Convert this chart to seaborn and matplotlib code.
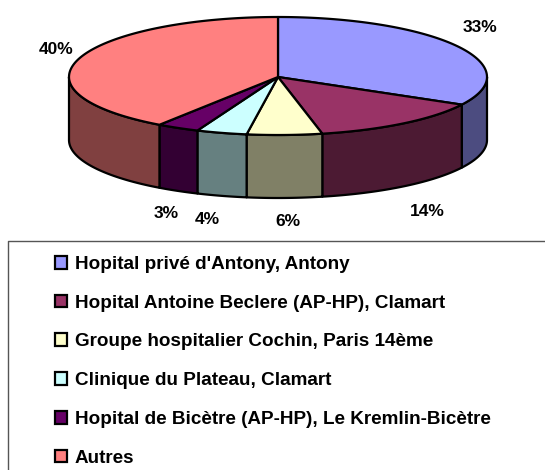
import numpy as np
import matplotlib
matplotlib.use('Agg')
import matplotlib.pyplot as plt
from matplotlib.patches import Patch
import seaborn as sns

# donnees
labels = ["Hopital privé d'Antony, Antony",
          "Hopital Antoine Beclere (AP-HP), Clamart",
          "Groupe hospitalier Cochin, Paris 14ème",
          "Clinique du Plateau, Clamart",
          "Hopital de Bicètre (AP-HP), Le Kremlin-Bicètre",
          "Autres"]
values = [32.9, 13.7, 5.8, 3.9, 3.3, 40.4]
top_colors = ['#9999FF', '#993366', '#FFFFCC', '#CCFFFF', '#660066', '#FF8080']
side_colors = ['#4C4C80', '#4C1A33', '#808066', '#668080', '#330033', '#804040']
label_pos = [(480, 28), (427, 211), (288, 222), (207, 220), (166, 214), (56, 49)]

# geometrie du camembert, en pixels
cx, cy = 278, 77
rx = 209
ry_back, ry_front = 60, 58
depth = 63
lw = 1.6

sns.set_theme(style='white')
plt.rcParams['font.family'] = ['Liberation Sans', 'DejaVu Sans']

fig, ax = plt.subplots(figsize=(5.45, 4.70), dpi=100)
ax.set_position([0, 0, 1, 1])
ax.set_xlim(0, 545)
ax.set_ylim(470, 0)
ax.axis('off')


def arc(t0, t1, dy=0):
    t = np.radians(np.linspace(t0, t1, 120))
    c = np.cos(t)
    return cx + rx * np.sin(t), cy - np.where(c > 0, ry_back, ry_front) * c + dy


# angles depuis le haut, sens horaire
edges = np.cumsum([0] + values) / sum(values) * 360

# cotes visibles (avant du camembert)
for i in range(len(values)):
    t0, t1 = max(edges[i], 90), min(edges[i + 1], 270)
    if t0 >= t1:
        continue
    x1, y1 = arc(t0, t1)
    x2, y2 = arc(t1, t0, depth)
    ax.fill(np.r_[x1, x2], np.r_[y1, y2], facecolor=side_colors[i],
            edgecolor='black', lw=lw, joinstyle='round', zorder=2)

# dessus
for i in range(len(values)):
    x, y = arc(edges[i], edges[i + 1])
    ax.fill(np.r_[cx, x], np.r_[cy, y], facecolor=top_colors[i],
            edgecolor='black', lw=lw, joinstyle='round', zorder=3)

for v, (px, py) in zip(values, label_pos):
    ax.text(px, py, f'{v:.0f}%', ha='center', va='center', fontsize=12.5,
            fontweight='bold', color='black', zorder=4)

# cadre de la legende, coupe par le bord de l'image
ax.plot([8, 8, 545], [470, 241, 241], color='#555555', lw=1, clip_on=False, zorder=1)

handles = [Patch(facecolor=c, edgecolor='black', lw=lw) for c in top_colors]
leg = ax.legend(handles, labels, loc='upper left', bbox_to_anchor=(54.5, 256),
                bbox_transform=ax.transData, frameon=False, borderpad=0, borderaxespad=0,
                handlelength=0.66, handleheight=0.66, handletextpad=0.42,
                labelspacing=1.15, prop={'weight': 'bold', 'size': 13.6})
for t in leg.get_texts():
    t.set_color('black')

fig.savefig('out.png', dpi=100)
